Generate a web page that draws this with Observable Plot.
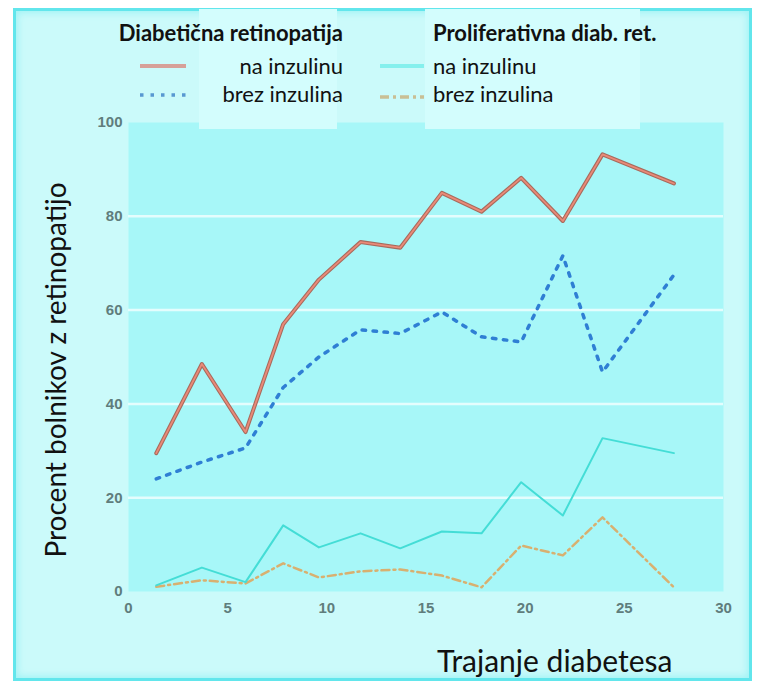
<!DOCTYPE html>
<html><head><meta charset="utf-8">
<script src="https://cdn.jsdelivr.net/npm/d3@7"></script>
<script src="https://cdn.jsdelivr.net/npm/@observablehq/plot@0.6"></script>
<style>
body{margin:0;background:#fff;}
#wrap{position:relative;width:761px;height:689px;overflow:hidden;font-family:Lato,"Open Sans",sans-serif;}
#frame{position:absolute;left:13px;top:8px;width:739px;height:673px;background:#cbfafa;box-shadow:inset 0 0 0 3px #62e6ec, inset 0 0 7px 5px #a2f3f5;}
.box{position:absolute;top:9px;height:120px;background:#d3fdfd;}
#chart{position:absolute;left:0;top:0;}
.t{position:absolute;white-space:nowrap;color:#111;font-size:22px;line-height:24px;}
.sw{position:absolute;}
</style></head>
<body><div id="wrap">
<div id="frame"></div>
<div id="chart"></div>
<div class="box" style="left:199px;width:138px;"></div>
<div class="box" style="left:425px;width:215px;"></div>
<div class="t" id="lt1" style="right:418px;top:21px;font-weight:bold;"></div>
<div class="t" id="l1a" style="right:418px;top:54px;"></div>
<div class="t" id="l1b" style="right:418px;top:82px;"></div>
<div class="t" id="lt2" style="left:433px;top:21px;font-weight:bold;"></div>
<div class="t" id="l2a" style="left:433px;top:54px;"></div>
<div class="t" id="l2b" style="left:433px;top:82px;"></div>
<svg class="sw" style="left:138px;top:56px;" width="52" height="50">
  <line x1="2" y1="10" x2="48" y2="10" stroke="#d98a80" stroke-width="4" opacity="0.8"/>
  <line x1="2" y1="39" x2="48" y2="39" stroke="#3d80c8" stroke-width="3.5" stroke-dasharray="3.5 7" opacity="0.8"/>
</svg>
<svg class="sw" style="left:378px;top:56px;" width="52" height="50">
  <line x1="2" y1="10" x2="46" y2="10" stroke="#7ef0ec" stroke-width="4" opacity="0.9"/>
  <line x1="2" y1="41" x2="46" y2="41" stroke="#c9b98a" stroke-width="3.5" stroke-dasharray="9 4 3 4" opacity="0.9"/>
</svg>
<div class="t" id="xt" style="left:437px;top:642px;font-size:30px;line-height:36px;"></div>
<div class="t" id="yt" style="left:55px;top:370px;font-size:28px;line-height:34px;transform:translate(-50%,-50%) rotate(-90deg);"></div>
</div>
<script>
// Data
const years = [1.4, 3.7, 5.9, 7.8, 9.6, 11.7, 13.7, 15.8, 17.8, 19.8, 21.9, 23.9, 27.5];
const dr_insulin = [29.5, 48.5, 34, 57, 66.5, 74.5, 73.3, 85, 81, 88.2, 79, 93.2, 87];
const dr_noInsulin = [24, 27.6, 30.6, 43.5, 50, 55.8, 55, 59.6, 54.3, 53.2, 71.6, 46.8, 67.5];
const pdr_insulin = [1.3, 5.1, 2, 14.1, 9.4, 12.4, 9.2, 12.8, 12.4, 23.3, 16.2, 32.7, 29.5];
const pdr_noInsulin = [1, 2.4, 1.7, 6, 3, 4.3, 4.7, 3.4, 0.9, 9.8, 7.7, 15.8, 0.9];
const xTicks = [0, 5, 10, 15, 20, 25, 30];
const yTicks = [0, 20, 40, 60, 80, 100];
const gridY = [20, 40, 60, 80];
const legendTitle1 = "Diabetična retinopatija";
const legendTitle2 = "Proliferativna diab. ret.";
const lblInsulin = "na inzulinu";
const lblNoInsulin = "brez inzulina";
const xTitle = "Trajanje diabetesa";
const yTitle = "Procent bolnikov z retinopatijo";

const tbl = arr => years.map((x, i) => ({x, v: arr[i]}));

document.getElementById("lt1").textContent = legendTitle1;
document.getElementById("lt2").textContent = legendTitle2;
document.getElementById("l1a").textContent = lblInsulin;
document.getElementById("l2a").textContent = lblInsulin;
document.getElementById("l1b").textContent = lblNoInsulin;
document.getElementById("l2b").textContent = lblNoInsulin;
document.getElementById("xt").textContent = xTitle;
document.getElementById("yt").textContent = yTitle;

const chart = Plot.plot({
  width: 761, height: 689,
  marginLeft: 128, marginRight: 38, marginTop: 122, marginBottom: 98,
  style: {background: "transparent", fontFamily: "'Liberation Sans Narrow', 'Liberation Sans', sans-serif", fontSize: "15px", fontWeight: "600", color: "#5f7d7c"},
  x: {domain: [0, 30], ticks: xTicks, tickSize: 0, tickPadding: 11, label: null},
  y: {domain: [0, 100], ticks: yTicks, tickSize: 0, tickPadding: 6, label: null},
  marks: [
    Plot.frame({fill: "#a7f7f8", stroke: null}),
    Plot.ruleY(gridY, {stroke: "#e4fdfd", strokeWidth: 2.5}),
    Plot.line(tbl(pdr_noInsulin), {x: "x", y: "v", stroke: "#d8b070", strokeWidth: 2.5, strokeDasharray: "8 4 2 4"}),
    Plot.line(tbl(pdr_insulin), {x: "x", y: "v", stroke: "#44ddd6", strokeWidth: 2}),
    Plot.line(tbl(dr_noInsulin), {x: "x", y: "v", stroke: "#2f7fd4", strokeWidth: 3.5, strokeDasharray: "3.5 7.5"}),
    Plot.line(tbl(dr_insulin), {x: "x", y: "v", stroke: "#a86a5c", strokeWidth: 4}),
    Plot.line(tbl(dr_insulin), {x: "x", y: "v", stroke: "#ea8a78", strokeWidth: 1.8})
  ]
});
document.getElementById("chart").appendChild(chart);
</script>
</body></html>
